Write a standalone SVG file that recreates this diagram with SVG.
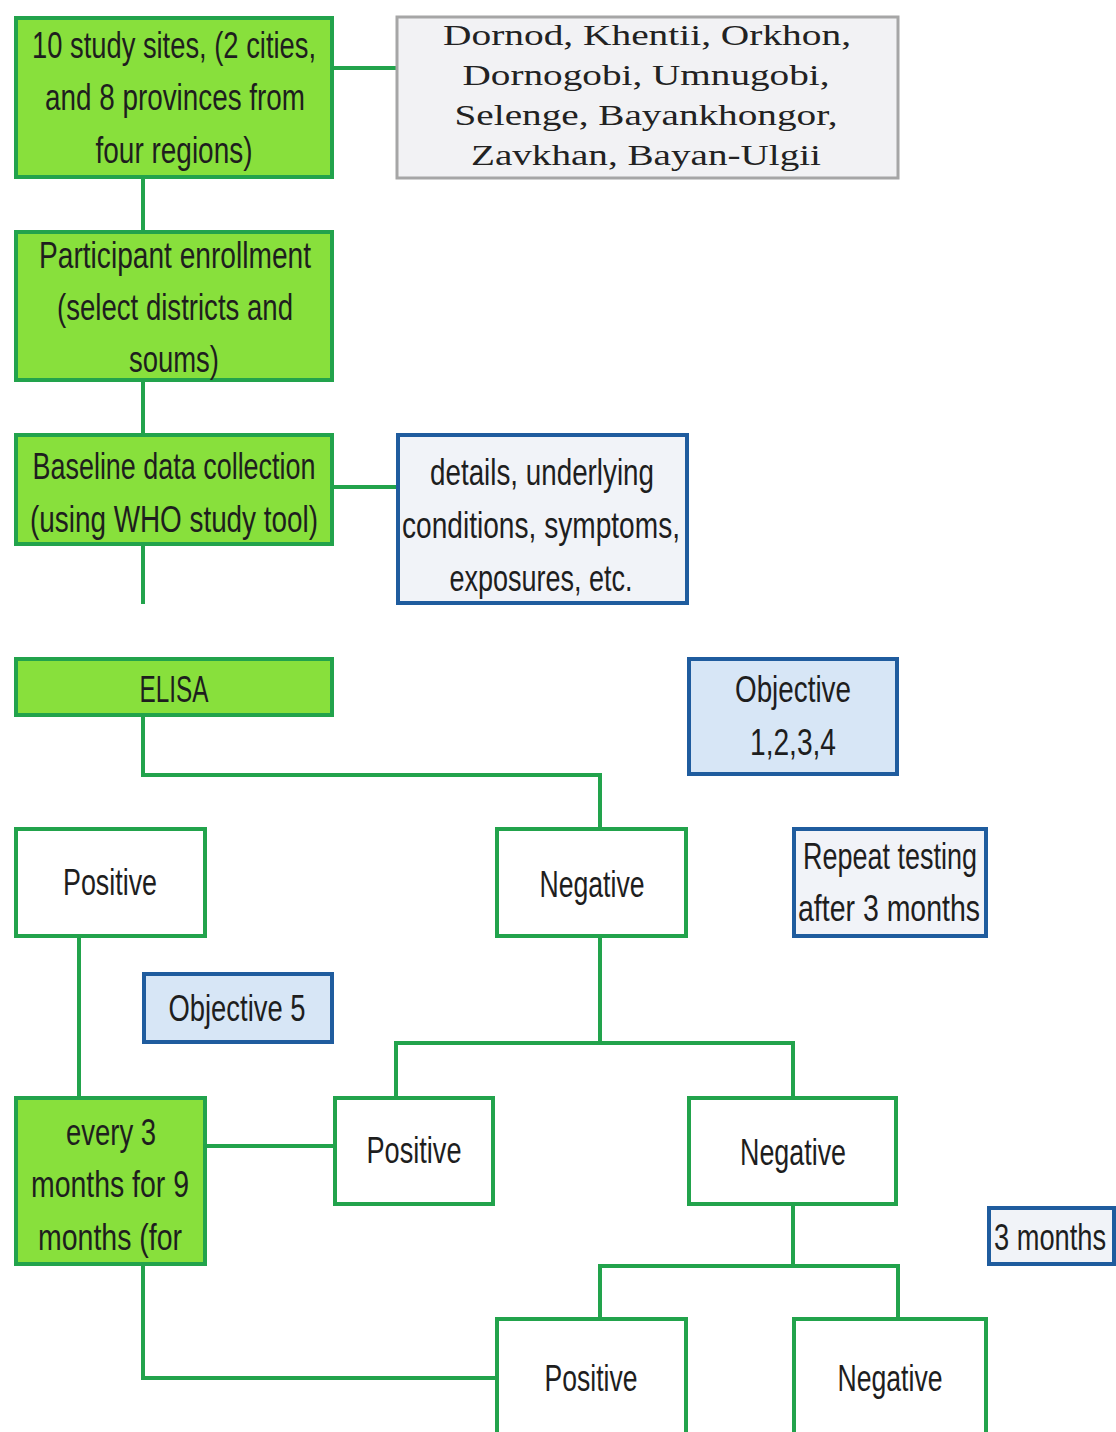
<svg xmlns="http://www.w3.org/2000/svg" width="1116" height="1432" viewBox="0 0 1116 1432">
<style>
.lime{fill:#88E03C;stroke:#22A34C;stroke-width:4}
.white{fill:#FFFFFF;stroke:#22A34C;stroke-width:4}
.gray{fill:#F2F2F4;stroke:#A6A6A6;stroke-width:3}
.note{fill:#F1F3F8;stroke:#1F5C9E;stroke-width:4}
.obj{fill:#D7E6F6;stroke:#1F5C9E;stroke-width:4}
.t{font-family:"Liberation Sans","DejaVu Sans",sans-serif;font-size:36px;fill:#1E1E1E;text-anchor:middle}
.s{font-family:"Liberation Serif","DejaVu Serif",serif;font-size:30px;fill:#222;text-anchor:middle}
.c{fill:none;stroke:#22A34C;stroke-width:4}
</style>
<rect width="1116" height="1432" fill="#FFFFFF"/>
<g id="connectors">
<path class="c" d="M334 68 H396"/>
<path class="c" d="M143 179 V230"/>
<path class="c" d="M143 382 V433"/>
<path class="c" d="M334 487 H396"/>
<path class="c" d="M143 546 V604"/>
<path class="c" d="M143 717 V775 H600 V827"/>
<path class="c" d="M79 938 V1096"/>
<path class="c" d="M600 938 V1043"/>
<path class="c" d="M396 1096 V1043 H793 V1096"/>
<path class="c" d="M207 1146 H333"/>
<path class="c" d="M793 1206 V1266"/>
<path class="c" d="M600 1317 V1266 H898 V1317"/>
<path class="c" d="M143 1266 V1378 H495"/>
</g>
<g id="sites">
<rect class="lime" x="16" y="18" width="316" height="159"/>
<text class="t" x="174" y="58" textLength="284" lengthAdjust="spacingAndGlyphs">10 study sites, (2 cities,</text>
<text class="t" x="175" y="110" textLength="260" lengthAdjust="spacingAndGlyphs">and 8 provinces from</text>
<text class="t" x="174" y="163" textLength="157" lengthAdjust="spacingAndGlyphs">four regions)</text>
</g>
<g id="provinces">
<rect class="gray" x="397" y="17" width="501" height="161"/>
<text class="s" x="647" y="45" textLength="408" lengthAdjust="spacingAndGlyphs">Dornod, Khentii, Orkhon,</text>
<text class="s" x="646" y="85" textLength="367" lengthAdjust="spacingAndGlyphs">Dornogobi, Umnugobi,</text>
<text class="s" x="646" y="125" textLength="383" lengthAdjust="spacingAndGlyphs">Selenge, Bayankhongor,</text>
<text class="s" x="646" y="165" textLength="350" lengthAdjust="spacingAndGlyphs">Zavkhan, Bayan-Ulgii</text>
</g>
<g id="enrollment">
<rect class="lime" x="16" y="232" width="316" height="148"/>
<text class="t" x="175" y="268" textLength="272" lengthAdjust="spacingAndGlyphs">Participant enrollment</text>
<text class="t" x="175" y="320" textLength="236" lengthAdjust="spacingAndGlyphs">(select districts and</text>
<text class="t" x="174" y="372" textLength="90" lengthAdjust="spacingAndGlyphs">soums)</text>
</g>
<g id="baseline">
<rect class="lime" x="16" y="435" width="316" height="109"/>
<text class="t" x="174" y="479" textLength="283" lengthAdjust="spacingAndGlyphs">Baseline data collection</text>
<text class="t" x="174" y="532" textLength="288" lengthAdjust="spacingAndGlyphs">(using WHO study tool)</text>
</g>
<g id="details">
<rect class="note" x="398" y="435" width="289" height="168"/>
<text class="t" x="542" y="485" textLength="224" lengthAdjust="spacingAndGlyphs">details, underlying</text>
<text class="t" x="541" y="538" textLength="278" lengthAdjust="spacingAndGlyphs">conditions, symptoms,</text>
<text class="t" x="541" y="591" textLength="183" lengthAdjust="spacingAndGlyphs">exposures, etc.</text>
</g>
<g id="elisa">
<rect class="lime" x="16" y="659" width="316" height="56"/>
<text class="t" x="174" y="702" textLength="69" lengthAdjust="spacingAndGlyphs">ELISA</text>
</g>
<g id="objective1234">
<rect class="obj" x="689" y="659" width="208" height="115"/>
<text class="t" x="793" y="702" textLength="116" lengthAdjust="spacingAndGlyphs">Objective</text>
<text class="t" x="793" y="755" textLength="86" lengthAdjust="spacingAndGlyphs">1,2,3,4</text>
</g>
<g id="positive1">
<rect class="white" x="16" y="829" width="189" height="107"/>
<text class="t" x="110" y="895" textLength="94" lengthAdjust="spacingAndGlyphs">Positive</text>
</g>
<g id="negative1">
<rect class="white" x="497" y="829" width="189" height="107"/>
<text class="t" x="592" y="897" textLength="105" lengthAdjust="spacingAndGlyphs">Negative</text>
</g>
<g id="repeat">
<rect class="note" x="794" y="829" width="192" height="107"/>
<text class="t" x="890" y="869" textLength="174" lengthAdjust="spacingAndGlyphs">Repeat testing</text>
<text class="t" x="889" y="921" textLength="182" lengthAdjust="spacingAndGlyphs">after 3 months</text>
</g>
<g id="objective5">
<rect class="obj" x="144" y="974" width="188" height="68"/>
<text class="t" x="237" y="1021" textLength="137" lengthAdjust="spacingAndGlyphs">Objective 5</text>
</g>
<g id="every3">
<rect class="lime" x="16" y="1098" width="189" height="166"/>
<text class="t" x="111" y="1145" textLength="90" lengthAdjust="spacingAndGlyphs">every 3</text>
<text class="t" x="110" y="1197" textLength="158" lengthAdjust="spacingAndGlyphs">months for 9</text>
<text class="t" x="110" y="1250" textLength="144" lengthAdjust="spacingAndGlyphs">months (for</text>
</g>
<g id="positive2">
<rect class="white" x="335" y="1098" width="158" height="106"/>
<text class="t" x="414" y="1163" textLength="95" lengthAdjust="spacingAndGlyphs">Positive</text>
</g>
<g id="negative2">
<rect class="white" x="689" y="1098" width="207" height="106"/>
<text class="t" x="793" y="1165" textLength="106" lengthAdjust="spacingAndGlyphs">Negative</text>
</g>
<g id="threemonths">
<rect class="note" x="989" y="1208" width="125" height="56"/>
<text class="t" x="1050" y="1250" textLength="112" lengthAdjust="spacingAndGlyphs">3 months</text>
</g>
<g id="positive3">
<rect class="white" x="497" y="1319" width="189" height="130"/>
<text class="t" x="591" y="1391" textLength="93" lengthAdjust="spacingAndGlyphs">Positive</text>
</g>
<g id="negative3">
<rect class="white" x="794" y="1319" width="192" height="130"/>
<text class="t" x="890" y="1391" textLength="105" lengthAdjust="spacingAndGlyphs">Negative</text>
</g>
</svg>
